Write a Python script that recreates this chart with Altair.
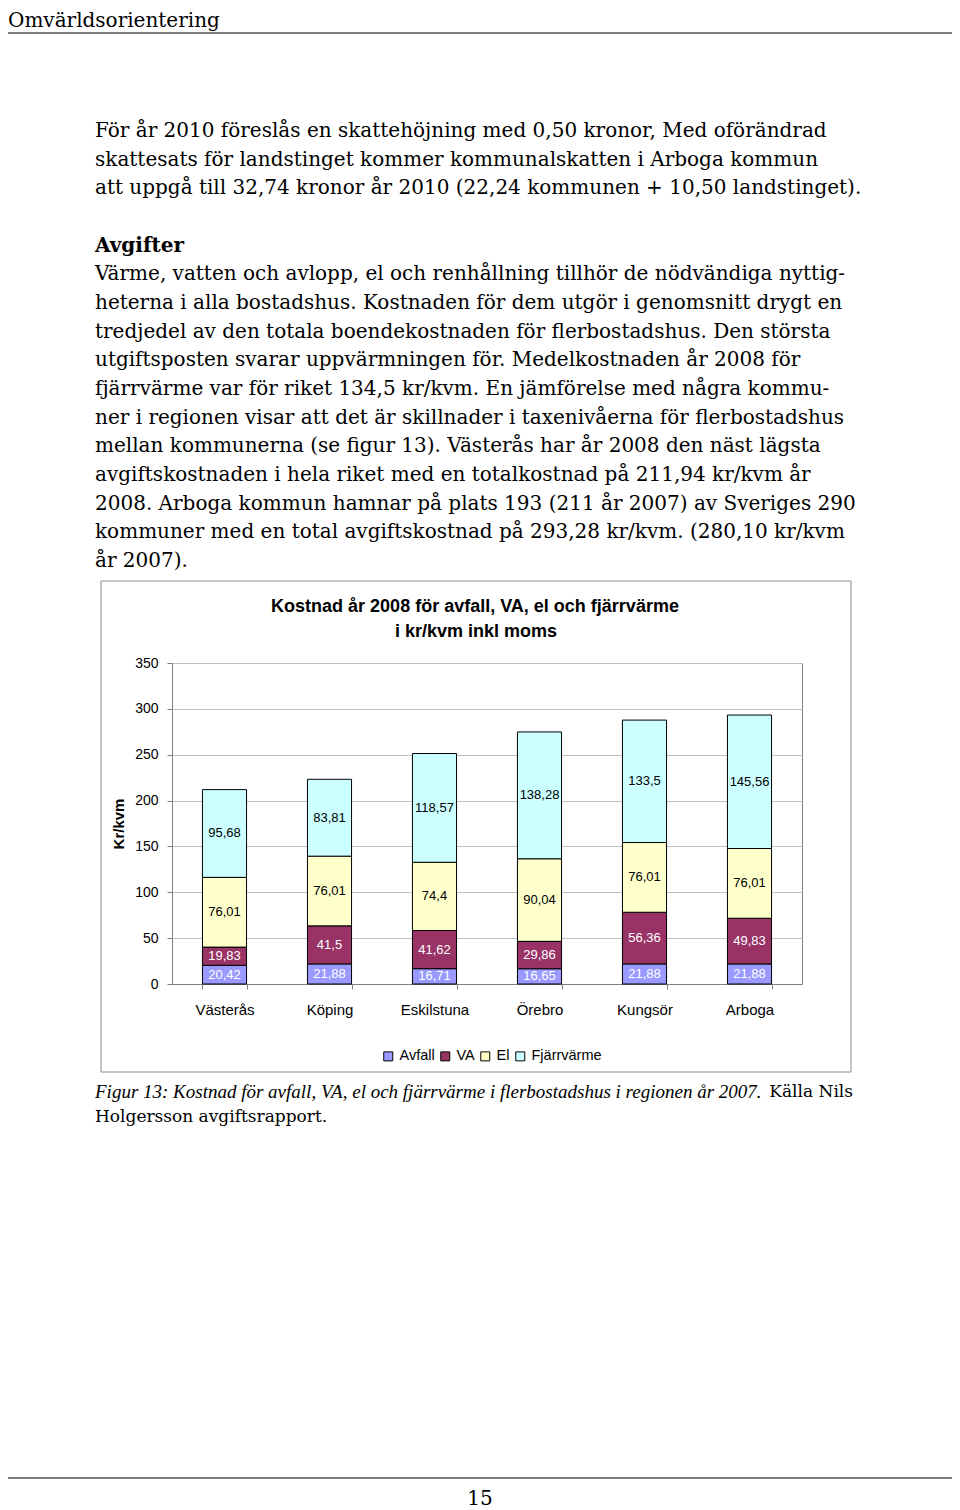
import altair as alt
import pandas as pd

# ---------------- data ----------------
cities = ["Västerås", "Köping", "Eskilstuna", "Örebro", "Kungsör", "Arboga"]
series = ["Avfall", "VA", "El", "Fjärrvärme"]
avfall = [20.42, 21.88, 16.71, 16.65, 21.88, 21.88]
va = [19.83, 41.5, 41.62, 29.86, 56.36, 49.83]
el = [76.01, 76.01, 74.4, 90.04, 76.01, 76.01]
fjarrvarme = [95.68, 83.81, 118.57, 138.28, 133.5, 145.56]
y_ticks = [0, 50, 100, 150, 200, 250, 300, 350]

chart_title = ["Kostnad år 2008 för avfall, VA, el och fjärrvärme", "i kr/kvm inkl moms"]
y_title = "Kr/kvm"
header = "Omvärldsorientering"
para1 = [
    "För år 2010 föreslås en skattehöjning med 0,50 kronor, Med oförändrad",
    "skattesats för landstinget kommer kommunalskatten i Arboga kommun",
    "att uppgå till 32,74 kronor år 2010 (22,24 kommunen + 10,50 landstinget).",
]
heading = "Avgifter"
para2 = [
    "Värme, vatten och avlopp, el och renhållning tillhör de nödvändiga nyttig-",
    "heterna i alla bostadshus. Kostnaden för dem utgör i genomsnitt drygt en",
    "tredjedel av den totala boendekostnaden för flerbostadshus. Den största",
    "utgiftsposten svarar uppvärmningen för. Medelkostnaden år 2008 för",
    "fjärrvärme var för riket 134,5 kr/kvm. En jämförelse med några kommu-",
    "ner i regionen visar att det är skillnader i taxenivåerna för flerbostadshus",
    "mellan kommunerna (se figur 13). Västerås har år 2008 den näst lägsta",
    "avgiftskostnaden i hela riket med en totalkostnad på 211,94 kr/kvm år",
    "2008. Arboga kommun hamnar på plats 193 (211 år 2007) av Sveriges 290",
    "kommuner med en total avgiftskostnad på 293,28 kr/kvm. (280,10 kr/kvm",
    "år 2007).",
]
caption_italic = "Figur 13: Kostnad för avfall, VA, el och fjärrvärme i flerbostadshus i regionen år 2007."
caption_source = "Källa Nils"
caption_cont = "Holgersson avgiftsrapport."
page_number = "15"

# ---------------- styles / layout ----------------
series_colors = ["#9999FF", "#993366", "#FFFFCC", "#CCFFFF"]
SANS = "Liberation Sans"
BODY = "DejaVu Serif"
ITAL = "Liberation Serif"

PLOT_W, PLOT_H = 630, 321
OX, OY = 172, 663          # page position of the plot area's top-left corner
MARGIN = 8
PAGE_W, PAGE_H = 960, 1510

rows = []
for i, (s, vals) in enumerate(zip(series, [avfall, va, el, fjarrvarme])):
    for c, v in zip(cities, vals):
        rows.append({"city": c, "series": s, "value": v, "order": i})
df = pd.DataFrame(rows)

x_scale = alt.Scale(domain=cities, paddingInner=0.58, paddingOuter=0.29)
y_scale = alt.Scale(domain=[0, 350], nice=False)

x_axis = alt.Axis(
    title=None, labelAngle=0, labelFont=SANS, labelFontSize=15, labelColor="black",
    labelPadding=13, tickBand="extent", tickSize=5, tickColor="#808080",
    domainColor="#808080", grid=False)
y_axis = alt.Axis(
    values=y_ticks, title=y_title, labelFont=SANS, labelFontSize=14,
    labelColor="black", labelPadding=9, tickSize=5, tickColor="#808080",
    domain=False, grid=True, gridColor="#c0c0c0",
    titleFont=SANS, titleFontSize=15, titleFontWeight="bold", titleColor="black",
    titleAngle=270, titleX=-54, titleY=PLOT_H / 2, titleAlign="center",
    titleBaseline="middle")

base = alt.Chart(df).transform_stack(
    stack="value", groupby=["city"], as_=["y0", "y1"],
    sort=[alt.SortField("order", order="ascending")],
).transform_calculate(
    mid="(datum.y0 + datum.y1) / 2",
    lab="replace(toString(datum.value), '.', ',')",
)

bars = base.mark_bar(stroke="black", strokeWidth=1).encode(
    x=alt.X("city:N", scale=x_scale, axis=x_axis),
    y=alt.Y("y0:Q", scale=y_scale, axis=y_axis),
    y2="y1:Q",
    color=alt.Color("series:N", scale=alt.Scale(domain=series, range=series_colors),
                    legend=alt.Legend(
                        title=None, orient="none", legendX=209, legendY=386,
                        direction="horizontal", symbolType="square", symbolSize=81,
                        symbolStrokeColor="black", symbolStrokeWidth=1,
                        labelFont=SANS, labelFontSize=14.5, labelColor="black",
                        columnPadding=3, labelOffset=4, padding=0)),
)

labels = base.mark_text(font=SANS, fontSize=13, baseline="middle").encode(
    x=alt.X("city:N", scale=x_scale, axis=x_axis),
    y=alt.Y("mid:Q", scale=y_scale, axis=y_axis),
    text="lab:N",
    color=alt.condition("datum.series == 'Avfall' || datum.series == 'VA'",
                        alt.value("white"), alt.value("black")),
)

one = pd.DataFrame({"k": [0]})


def text_line(txt, x, y, baseline="middle", **kw):
    return alt.Chart(one).mark_text(text=txt, baseline=baseline, color="black", **kw).encode(
        x=alt.value(x - OX), y=alt.value(y - OY))


frame = alt.Chart(one).mark_rect(fillOpacity=0, stroke="#8c8c8c", strokeWidth=1).encode(
    x=alt.value(101 - OX), x2=alt.value(851 - OX), y=alt.value(581 - OY), y2=alt.value(1072 - OY))
top_rule = alt.Chart(one).mark_rule(color="#555555", strokeWidth=1.5).encode(
    x=alt.value(0 - OX), x2=alt.value(PAGE_W - OX), y=alt.value(33 - OY))
bottom_rule = alt.Chart(one).mark_rule(color="#555555", strokeWidth=1.5).encode(
    x=alt.value(0 - OX), x2=alt.value(PAGE_W - OX), y=alt.value(1478 - OY))

BODY_X, BODY_TOP, LH = 95, 131, 28.67
text_layers = [text_line(header, 8, 27, baseline="alphabetic", font=BODY, fontSize=20, align="left")]
for i, line in enumerate(para1):
    text_layers.append(text_line(line, BODY_X, BODY_TOP + LH * i, font=BODY, fontSize=20, align="left"))
text_layers.append(text_line(heading, BODY_X, BODY_TOP + LH * 4, font=BODY, fontSize=20,
                             fontWeight="bold", align="left"))
for i, line in enumerate(para2):
    text_layers.append(text_line(line, BODY_X, BODY_TOP + LH * (5 + i), font=BODY, fontSize=20, align="left"))
for line, cx, cy in zip(chart_title, [475, 476], [607, 632]):
    text_layers.append(text_line(line, cx, cy, font=SANS, fontSize=18, fontWeight="bold", align="center"))
text_layers += [
    text_line(caption_italic, BODY_X, 1092, font=ITAL, fontSize=19, fontStyle="italic", align="left"),
    text_line(caption_source, 853, 1092, font=BODY, fontSize=17, align="right"),
    text_line(caption_cont, BODY_X, 1117, font=BODY, fontSize=17, align="left"),
    text_line(page_number, 480, 1499, font=BODY, fontSize=20, align="center"),
]

chart = alt.layer(bars, labels, frame, top_rule, bottom_rule, *text_layers).properties(
    width=PLOT_W, height=PLOT_H,
    autosize=alt.AutoSizeParams(type="none"),
    padding={"left": OX - MARGIN, "top": OY - MARGIN,
             "right": (PAGE_W - MARGIN) - (OX + PLOT_W),
             "bottom": PAGE_H - (OY + PLOT_H)},
    background="white",
).configure_view(stroke="#808080", strokeWidth=1)

chart.save("out.html", embed_options={"renderer": "svg", "actions": False})
